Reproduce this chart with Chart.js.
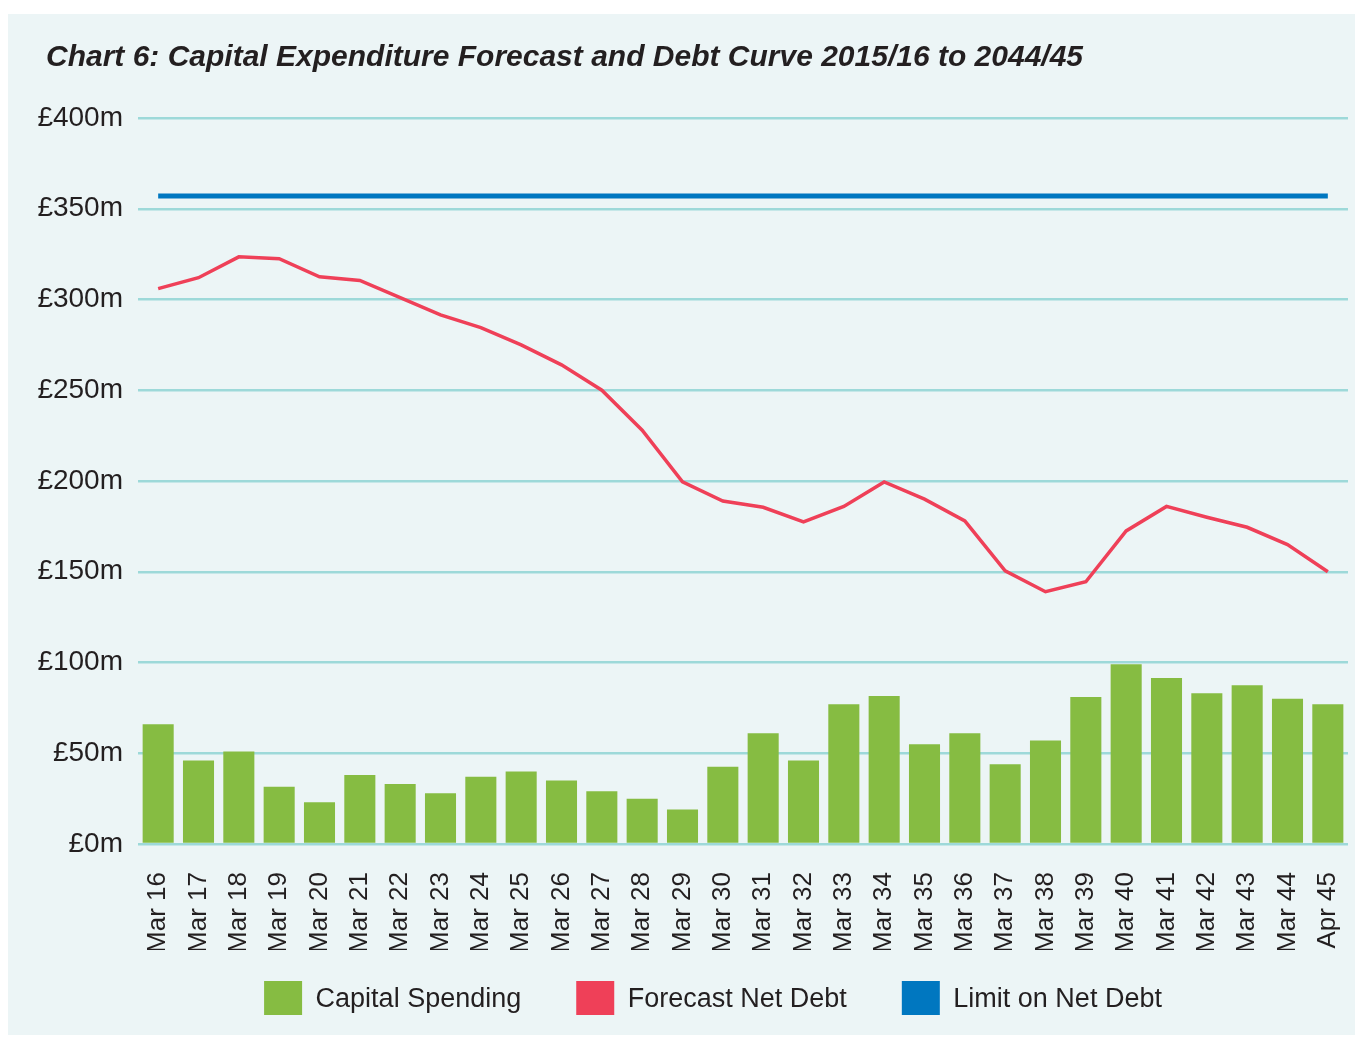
<!DOCTYPE html>
<html>
<head>
<meta charset="utf-8">
<title>Chart 6: Capital Expenditure Forecast and Debt Curve</title>
<script src="https://cdn.jsdelivr.net/npm/chart.js@4/dist/chart.umd.min.js"></script>
<style>
    html, body { margin: 0; padding: 0; background: #ffffff; }
    #wrap  { position: relative; width: 1362px; height: 1039px; }
    #panel { position: absolute; left: 8px; top: 14px; width: 1347px; height: 1021px; background: #ecf5f6; }
    #debtChart { position: absolute; left: 0; top: 0; }
</style>
</head>
<body>
<div id="wrap">
    <div id="panel"></div>
    <canvas id="debtChart" width="1362" height="1039"></canvas>
</div>
<script>
// Años (marzo de cada ejercicio)
const labels = [
    'Mar 16', 'Mar 17', 'Mar 18', 'Mar 19', 'Mar 20', 'Mar 21', 'Mar 22', 'Mar 23', 'Mar 24', 'Mar 25',
    'Mar 26', 'Mar 27', 'Mar 28', 'Mar 29', 'Mar 30', 'Mar 31', 'Mar 32', 'Mar 33', 'Mar 34', 'Mar 35',
    'Mar 36', 'Mar 37', 'Mar 38', 'Mar 39', 'Mar 40', 'Mar 41', 'Mar 42', 'Mar 43', 'Mar 44', 'Apr 45'
];

// £m
const capitalSpending = [
    66, 46, 51, 31.5, 23, 38, 33, 28, 37, 40,
    35, 29, 25, 19, 42.5, 61, 46, 77, 81.5, 55,
    61, 44, 57, 81, 99, 91.5, 83, 87.5, 80, 77
];

const forecastNetDebt = [
    306, 312, 323.5, 322.5, 312.5, 310.5, 301, 291.5, 284.5, 275,
    264, 250, 228, 199.5, 189, 185.5, 177.5, 186, 199.5, 190,
    178, 150.5, 139, 144.5, 172.5, 186, 180, 174.5, 165, 150
];

const limitOnNetDebt = [
    357, 357, 357, 357, 357, 357, 357, 357, 357, 357,
    357, 357, 357, 357, 357, 357, 357, 357, 357, 357,
    357, 357, 357, 357, 357, 357, 357, 357, 357, 357
];

const yTicks = [0, 50, 100, 150, 200, 250, 300, 350, 400];

const GREEN = '#86bc42';
const RED   = '#ef4058';
const BLUE  = '#0077c0';
const GRID  = '#9dd9d9';
const TEXT  = '#231f20';
const FONT  = "'Liberation Sans', Arial, Helvetica, sans-serif";

// pequeños ajustes de título y leyenda para que queden como en el original
const blockNudge = {
    id: 'blockNudge',
    afterLayout(chart) {
        const t = chart.titleBlock;
        if (t) { t.left += 10; t.right += 10; }
        const lg = chart.legend;
        if (lg) {
            lg.left += 21; lg.right += 21;
            lg.top  -= 24; lg.bottom -= 24;
        }
    }
};

const ctx = document.getElementById('debtChart');

new Chart(ctx, {
    type: 'bar',
    data: {
        labels: labels,
        datasets: [
            {
                label: 'Capital Spending',
                data : capitalSpending,
                backgroundColor: GREEN,
                borderColor    : GREEN,
                borderWidth    : 0,
                categoryPercentage: 1,
                barPercentage     : 0.77,
            },
            {
                type : 'line',
                label: 'Forecast Net Debt',
                data : forecastNetDebt,
                borderColor    : RED,
                backgroundColor: RED,
                borderWidth    : 3.5,
                pointRadius    : 0,
                tension        : 0,
            },
            {
                type : 'line',
                label: 'Limit on Net Debt',
                data : limitOnNetDebt,
                borderColor    : BLUE,
                backgroundColor: BLUE,
                borderWidth    : 5,
                pointRadius    : 0,
                tension        : 0,
            }
        ]
    },
    options: {
        responsive: false,
        animation : false,
        layout: { padding: { left: 36, right: 14, top: 20, bottom: 0 } },
        plugins: {
            title: {
                display: true,
                text   : 'Chart 6: Capital Expenditure Forecast and Debt Curve 2015/16 to 2044/45',
                align  : 'start',
                color  : TEXT,
                font   : { family: FONT, size: 30, weight: 'bold', style: 'italic', lineHeight: 1.2 },
                padding: { top: 20, bottom: 42 },
            },
            legend: {
                position : 'bottom',
                maxHeight: 89,
                labels   : {
                    color    : TEXT,
                    font     : { family: FONT, size: 27 },
                    boxWidth : 38,
                    boxHeight: 38,
                    padding  : 55,
                    generateLabels: (chart) =>
                        Chart.defaults.plugins.legend.labels.generateLabels(chart)
                            .map(l => ({ ...l, lineWidth: 0, fillStyle: l.strokeStyle })),
                }
            },
            tooltip: { enabled: false }
        },
        scales: {
            x: {
                grid  : { display: false },
                border: { display: false },
                ticks : {
                    color      : TEXT,
                    font       : { family: FONT, size: 26 },
                    maxRotation: 90,
                    minRotation: 90,
                    autoSkip   : false,
                    padding    : 20,
                },
                afterFit: (scale) => {
                    scale.height = 106;
                    scale.paddingLeft = 0;
                    scale.paddingRight = 0;
                }
            },
            y: {
                min: 0,
                max: 400,
                grid  : { color: GRID, lineWidth: 2.5, drawTicks: false },
                border: { display: false },
                afterBuildTicks: (scale) => { scale.ticks = yTicks.map(v => ({ value: v })); },
                ticks : {
                    color   : TEXT,
                    font    : { family: FONT, size: 28 },
                    padding : 15,
                    callback: (v) => '£' + v + 'm',
                },
                afterFit: (scale) => { scale.width = 102; }
            }
        }
    },
    plugins: [blockNudge]
});
</script>
</body>
</html>
